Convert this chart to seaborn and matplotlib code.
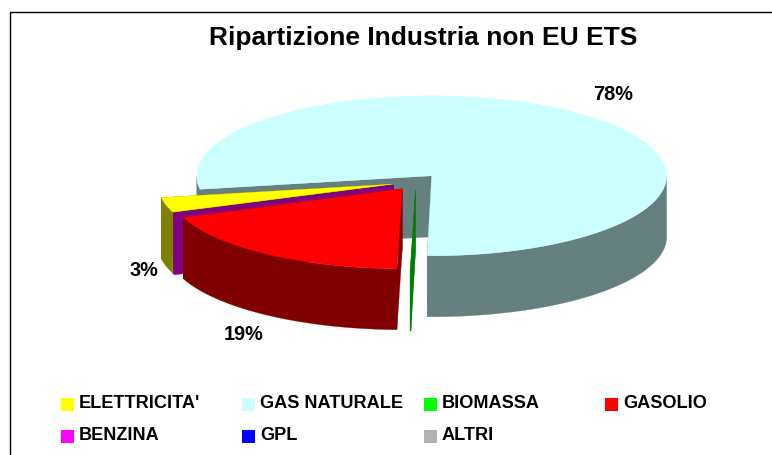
import numpy as np
import matplotlib
matplotlib.use("Agg")
import matplotlib.pyplot as plt
from matplotlib.patches import Polygon, Rectangle
import seaborn as sns

categories = ["ELETTRICITA'", "GAS NATURALE", "BIOMASSA", "GASOLIO", "BENZINA", "GPL", "ALTRI"]
values = [3.0, 78.0, 0.05, 18.75, 0.2, 0.0, 0.0]
legend_colors = ["#FFFF00", "#CCFFFF", "#00FF00", "#FF0000", "#FF00FF", "#0000FF", "#B2B2B2"]
top_colors = ["#FFFF00", "#CCFFFF", "#008000", "#FF0000", "#800080", "#000080", "#808080"]
side_colors = ["#808000", "#668080", "#008000", "#800000", "#800080", "#000080", "#808080"]
title = "Ripartizione Industria non EU ETS"

sns.set_theme(style="white")
plt.rcParams["font.family"] = ["Liberation Sans", "DejaVu Sans"]
plt.rcParams["font.weight"] = "bold"

W, H = 772, 455
fig = plt.figure(figsize=(W / 100, H / 100), dpi=100, facecolor="white")
ax = fig.add_axes([0, 0, 1, 1])
ax.set_xlim(0, W)
ax.set_ylim(H, 0)
ax.axis("off")

# chart frame (left and top visible)
ax.plot([10, 10, W], [H, 12, 12], color="black", lw=1.0, solid_joinstyle="miter")

# pie projection
CX, CY, A, B, DEPTH, EXPL = 416, 182, 235, 80, 61, 24
START = 200.5


def pt(cx, cy, deg):
    t = np.radians(deg)
    return cx + A * np.cos(t), cy - B * np.sin(t)


def draw_wedge(a0, a1, color, dark):
    """Wedge going clockwise from a0 down to a1 (degrees)."""
    mid = np.radians((a0 + a1) / 2)
    ax_, ay_ = CX + EXPL * np.cos(mid), CY - EXPL * (B / A) * np.sin(mid)
    th = np.linspace(a0, a1, 300)
    xs, ys = pt(ax_, ay_, th)
    # radial walls
    for i in (0, -1):
        quad = [(ax_, ay_), (xs[i], ys[i]), (xs[i], ys[i] + DEPTH), (ax_, ay_ + DEPTH)]
        ax.add_patch(Polygon(quad, closed=True, fc=dark, ec=dark, lw=0.2))
    # outer side, front-facing part only
    front = np.sin(np.radians(th)) <= 0
    idx = np.where(front)[0]
    if len(idx):
        groups = np.split(idx, np.where(np.diff(idx) > 1)[0] + 1)
        for g in groups:
            top = np.c_[xs[g], ys[g]]
            bot = np.c_[xs[g], ys[g] + DEPTH][::-1]
            ax.add_patch(Polygon(np.r_[top, bot], closed=True, fc=dark, ec=dark, lw=0.2))
    # top face
    ax.add_patch(Polygon(np.r_[[[ax_, ay_]], np.c_[xs, ys]], closed=True, fc=color, ec=color, lw=0.2))


spans = {}
cur = START
for name, v, c, d in zip(categories, values, top_colors, side_colors):
    sweep = v / sum(values) * 360
    spans[name] = (cur, cur - sweep, c, d)
    cur -= sweep

for name in ["GAS NATURALE", "ELETTRICITA'", "BENZINA", "GASOLIO", "BIOMASSA"]:
    a0, a1, c, d = spans[name]
    draw_wedge(a0, a1, c, d)

# title
ax.text(423.5, 38, title, ha="center", va="center", fontsize=19, color="black", fontweight="bold")

# percentage labels
pct_pos = {"GAS NATURALE": (613, 95), "ELETTRICITA'": (144, 271), "GASOLIO": (244, 334)}
for name, (x, y) in pct_pos.items():
    v = values[categories.index(name)]
    ax.text(x, y, f"{v:.0f}%", ha="center", va="center", fontsize=14.3, color="black", fontweight="bold")

# legend
col_x = [61, 242, 424, 605]
row_y = [398, 430]
for i, (name, c) in enumerate(zip(categories, legend_colors)):
    x, y = col_x[i % 4], row_y[i // 4]
    ax.add_patch(Rectangle((x, y), 13, 13, fc=c, ec="none"))
    ax.text(x + 18, y + 5.5, name, ha="left", va="center", fontsize=13.1, color="black", fontweight="bold")

fig.savefig("out.png", dpi=100, facecolor="white")
